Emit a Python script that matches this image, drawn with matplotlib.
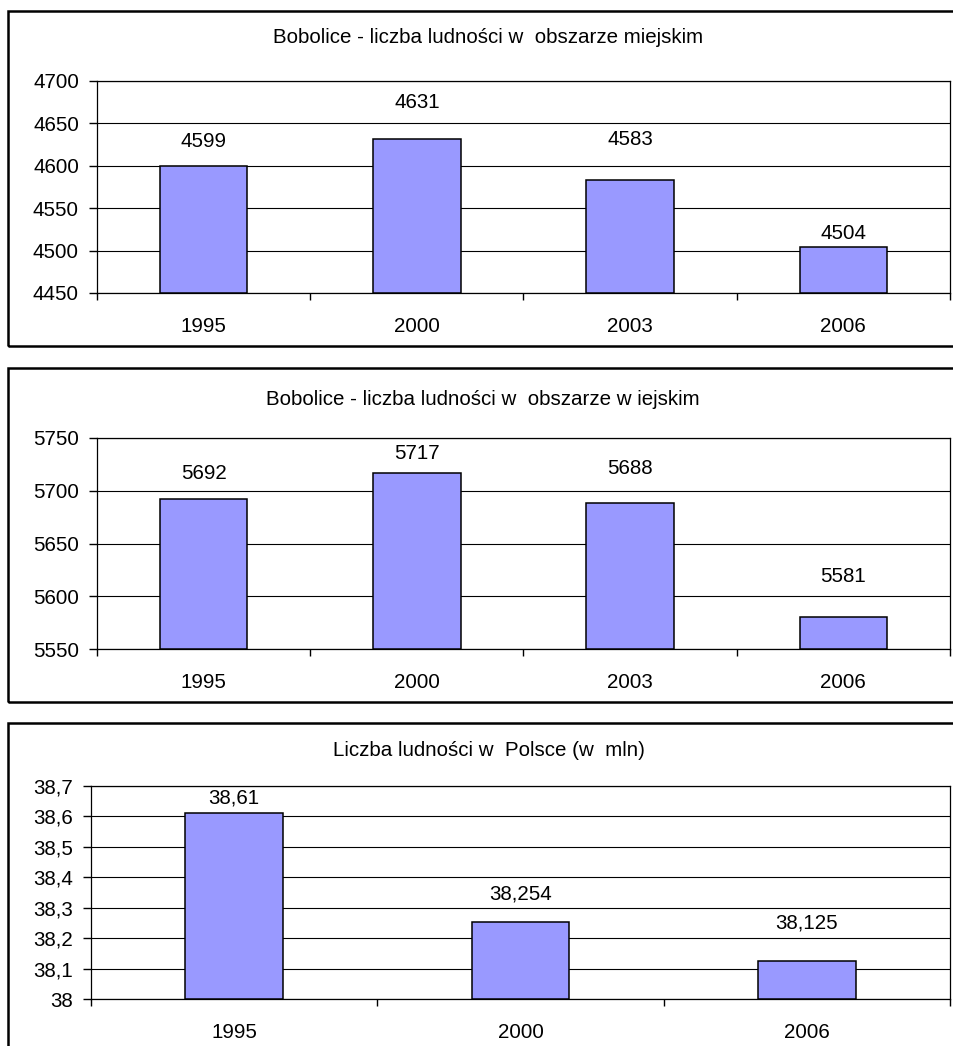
import matplotlib
matplotlib.use("Agg")
import matplotlib.pyplot as plt
from matplotlib.patches import Rectangle

plt.rcParams['font.family'] = ['Liberation Sans', 'DejaVu Sans']

# ---- data ----
title1 = "Bobolice - liczba ludności w  obszarze miejskim"
years1 = ["1995", "2000", "2003", "2006"]
values1 = [4599, 4631, 4583, 4504]
yticks1 = [4450, 4500, 4550, 4600, 4650, 4700]

title2 = "Bobolice - liczba ludności w  obszarze w iejskim"
years2 = ["1995", "2000", "2003", "2006"]
values2 = [5692, 5717, 5688, 5581]
yticks2 = [5550, 5600, 5650, 5700, 5750]

title3 = "Liczba ludności w  Polsce (w  mln)"
years3 = ["1995", "2000", "2006"]
values3 = [38.61, 38.254, 38.125]
yticks3 = [38.0, 38.1, 38.2, 38.3, 38.4, 38.5, 38.6, 38.7]
yticklabels3 = ["38", "38,1", "38,2", "38,3", "38,4", "38,5", "38,6", "38,7"]

# ---- styles / layout (pixels) ----
W, H = 954, 1046
BAR_COLOR = "#9999FF"
FS = 14.8

fig = plt.figure(figsize=(W / 100, H / 100), dpi=100)
fig.patch.set_facecolor("white")


def fx(px):
    return px / W


def fy(py):
    return 1 - py / H


def panel(box_top, box_bottom, ax_left, ax_right, ax_top, ax_bottom, title, title_x, title_y,
          cats, vals, yticks, yticklabels, bar_width, label_offsets, fmt):
    # outer chart border
    fig.add_artist(Rectangle((fx(8), fy(box_bottom)), fx(970) - fx(8), fy(box_top) - fy(box_bottom),
                             transform=fig.transFigure, fill=False, edgecolor="black",
                             linewidth=1.8, clip_on=False))
    fig.text(fx(title_x), fy(title_y), title, ha="center", va="center", fontsize=FS)
    ax = fig.add_axes([fx(ax_left), fy(ax_bottom), fx(ax_right) - fx(ax_left), fy(ax_top) - fy(ax_bottom)])
    n = len(cats)
    x = list(range(n))
    ax.bar(x, [v - yticks[0] for v in vals], bottom=yticks[0], width=bar_width,
           color=BAR_COLOR, edgecolor="black", linewidth=1.1, zorder=3)
    ax.set_xlim(-0.5, n - 0.5)
    ax.set_ylim(yticks[0], yticks[-1])
    ax.set_yticks(yticks)
    ax.set_yticklabels(yticklabels, fontsize=FS)
    ax.set_xticks([i - 0.5 for i in range(n + 1)])
    ax.set_xticklabels([""] * (n + 1))
    ax.set_xticks(x, minor=True)
    ax.set_xticklabels(cats, minor=True, fontsize=FS)
    ax.tick_params(axis="x", which="minor", length=0, pad=17)
    ax.tick_params(axis="x", which="major", length=5, width=1, color="black")
    ax.tick_params(axis="y", length=6, width=1, pad=7)
    ax.grid(axis="y", color="black", linewidth=0.8, zorder=0)
    ax.set_axisbelow(True)
    for s in ax.spines.values():
        s.set_color("black")
        s.set_linewidth(0.9)
    for i, v in enumerate(vals):
        ax.annotate(fmt(v), (i, v), xytext=(0, label_offsets[i]), textcoords="offset pixels",
                    ha="center", va="center", fontsize=FS)
    return ax


panel(11, 346, 97, 950, 80.7, 293, title1, 488, 37.5, years1, values1, yticks1,
      [str(t) for t in yticks1], 0.41, [25, 37, 41, 14], lambda v: str(v))
panel(368, 702, 97, 950, 437.7, 649.3, title2, 483, 399.3, years2, values2, yticks2,
      [str(t) for t in yticks2], 0.41, [26, 19, 35, 40], lambda v: str(v))
panel(723, 1060, 91, 950, 786, 999.3, title3, 489, 750.7, years3, values3, yticks3,
      yticklabels3, 0.34, [15, 28, 38], lambda v: str(v).replace(".", ","))

fig.savefig("out.png", dpi=100, facecolor="white")
